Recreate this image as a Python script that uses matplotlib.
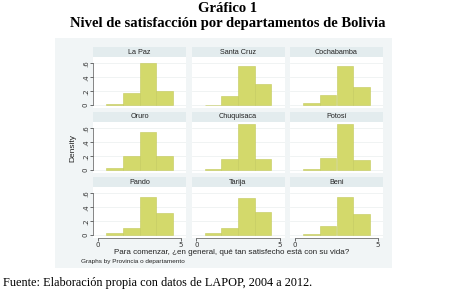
import numpy as np
import matplotlib
matplotlib.use('Agg')
import matplotlib.pyplot as plt

W, H = 449, 292

departamentos = ['La Paz', 'Santa Cruz', 'Cochabamba',
                 'Oruro', 'Chuquisaca', 'Potosí',
                 'Pando', 'Tarija', 'Beni']
categorias = [1, 2, 3, 4]
densidad_la_paz = [0.02, 0.17, 0.61, 0.20]
densidad_santa_cruz = [0.01, 0.13, 0.56, 0.30]
densidad_cochabamba = [0.03, 0.15, 0.56, 0.26]
densidad_oruro = [0.03, 0.21, 0.55, 0.21]
densidad_chuquisaca = [0.02, 0.16, 0.66, 0.16]
densidad_potosi = [0.02, 0.17, 0.66, 0.15]
densidad_pando = [0.03, 0.11, 0.54, 0.32]
densidad_tarija = [0.03, 0.11, 0.53, 0.33]
densidad_beni = [0.02, 0.13, 0.54, 0.31]
densidades = [densidad_la_paz, densidad_santa_cruz, densidad_cochabamba,
              densidad_oruro, densidad_chuquisaca, densidad_potosi,
              densidad_pando, densidad_tarija, densidad_beni]
yticks = [0, 0.2, 0.4, 0.6]
ytick_labels = ['0', '.2', '.4', '.6']
xticks = [0, 5]

bar_color = '#d3d96b'
strip_color = '#e3ecee'
region_color = '#f1f5f6'


def px(x0, y0, w, h):
    # pixel box (top-left origin) -> figure fraction
    return [x0 / W, 1 - (y0 + h) / H, w / W, h / H]


def make_plot(out_path=None):
    fig = plt.figure(figsize=(W / 100, H / 100), dpi=100)
    fig.patch.set_facecolor('white')

    # Stata graph region (drawn first, under the panels)
    bg = fig.add_axes(px(55, 38, 392 - 55, 268 - 38))
    bg.set_facecolor(region_color)
    bg.set_xticks([])
    bg.set_yticks([])
    for s in bg.spines.values():
        s.set_visible(False)

    col_left = [93, 191.5, 290]
    row_top = [57, 122, 187]
    pw, ph, sh = 93, 51, 10

    for i, (name, dens) in enumerate(zip(departamentos, densidades)):
        r, c = divmod(i, 3)
        x0, y0 = col_left[c], row_top[r]
        ax = fig.add_axes(px(x0, y0, pw, ph))
        ax.bar(categorias, dens, width=1.0, color=bar_color,
               edgecolor='#c4ca5c', linewidth=0.4, zorder=2)
        ax.set_xlim(-0.3, 5.3)
        ax.set_ylim(-0.04, 0.69)
        ax.set_facecolor('white')
        for yv in yticks:
            ax.axhline(yv, color='#eaeeee', lw=0.5, zorder=1)
        for s in ['top', 'right']:
            ax.spines[s].set_visible(False)
        ax.spines['left'].set_bounds(0, 0.6)
        ax.spines['bottom'].set_bounds(0, 5)
        for s in ['left', 'bottom']:
            ax.spines[s].set_linewidth(0.5)
            ax.spines[s].set_color('#555555')
        ax.tick_params(length=2, width=0.5, labelsize=5, pad=1, colors='#333333')
        if c == 0:
            ax.set_yticks(yticks)
            ax.set_yticklabels(ytick_labels, rotation=90, va='center')
        else:
            ax.spines['left'].set_visible(False)
            ax.set_yticks([])
        if r == 2:
            ax.set_xticks(xticks)
            ax.set_xticklabels([str(t) for t in xticks])
        else:
            ax.spines['bottom'].set_visible(False)
            ax.set_xticks([])

        # header strip
        sax = fig.add_axes(px(x0, y0 - sh, pw, sh))
        sax.set_facecolor(strip_color)
        sax.set_xticks([])
        sax.set_yticks([])
        for s in sax.spines.values():
            s.set_visible(False)
        sax.text(0.5, 0.5, name, ha='center', va='center', fontsize=5.2,
                 family='Liberation Sans', color='#222222')

    fig.text(73 / W, 1 - 148 / H, 'Density', rotation=90, ha='center', va='center',
             fontsize=6, family='Liberation Sans', color='#222222')
    fig.text(232 / W, 1 - 253 / H,
             'Para comenzar, ¿en general, qué tan satisfecho está con su vida?',
             ha='center', va='center', fontsize=5.8, family='Liberation Sans', color='#222222')
    fig.text(81 / W, 1 - 262 / H, 'Graphs by Provincia o departamento',
             ha='left', va='center', fontsize=4.6, family='Liberation Sans', color='#222222')

    fig.text(228 / W, 1 - 9 / H, 'Gráfico 1', ha='center', va='center',
             fontsize=10.5, fontweight='bold', family='Liberation Serif')
    fig.text(228 / W, 1 - 23 / H, 'Nivel de satisfacción por departamentos de Bolivia',
             ha='center', va='center', fontsize=10.5, fontweight='bold', family='Liberation Serif')
    fig.text(3 / W, 1 - 283 / H, 'Fuente: Elaboración propia con datos de LAPOP, 2004 a 2012.',
             ha='left', va='center', fontsize=8.8, family='Liberation Serif')

    if out_path:
        fig.savefig(out_path, dpi=100)
    return fig


if __name__ == '__main__':
    make_plot('out.png')
